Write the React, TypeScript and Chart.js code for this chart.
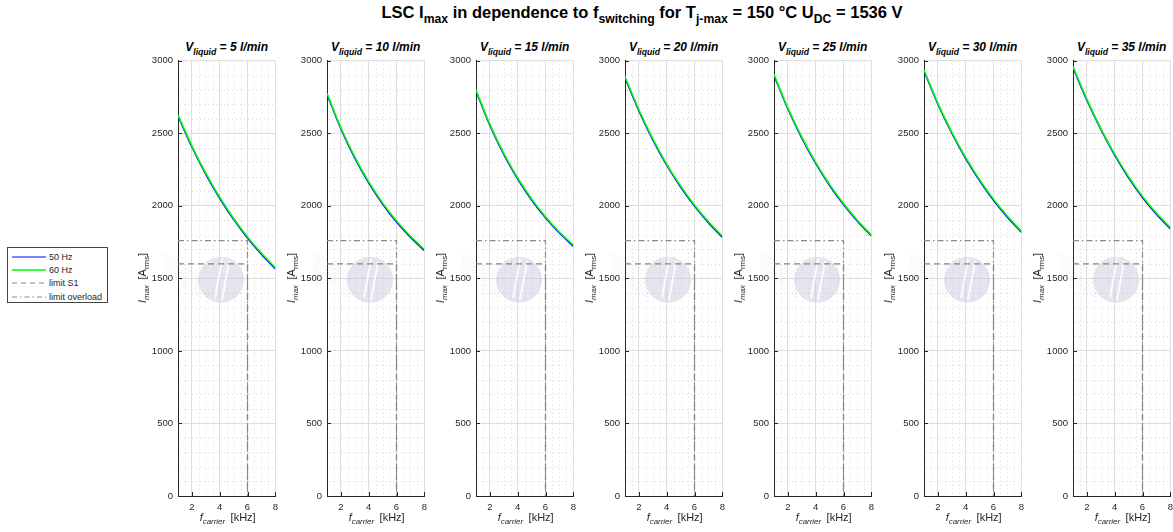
import React, { useEffect, useRef } from "react";
import { Chart, registerables } from "chart.js";

Chart.register(...registerables);

const FONT = "'Liberation Sans', Arial, Helvetica, sans-serif";

// carrier frequency grid [kHz]
const fCarrier = [1, 2, 3, 4, 5, 6, 7, 8];
// coolant flow per panel [l/min]
const flowRates = [5, 10, 15, 20, 25, 30, 35];

// I_max [A_rms] at 50 Hz output frequency, one array per flow rate
const i50Flow5 = [2619, 2405, 2217, 2052, 1906, 1778, 1666, 1566];
const i50Flow10 = [2768, 2530, 2329, 2158, 2012, 1888, 1784, 1692];
const i50Flow15 = [2790, 2554, 2354, 2184, 2040, 1917, 1812, 1722];
const i50Flow20 = [2883, 2654, 2454, 2280, 2129, 1998, 1884, 1784];
const i50Flow25 = [2898, 2667, 2467, 2292, 2140, 2008, 1893, 1793];
const i50Flow30 = [2928, 2700, 2500, 2325, 2172, 2038, 1921, 1818];
const i50Flow35 = [2952, 2727, 2526, 2349, 2193, 2057, 1942, 1842];

// I_max [A_rms] at 60 Hz output frequency
const i60Flow5 = [2627, 2413, 2225, 2060, 1914, 1786, 1674, 1574];
const i60Flow10 = [2776, 2538, 2337, 2166, 2020, 1896, 1792, 1700];
const i60Flow15 = [2798, 2562, 2362, 2192, 2048, 1925, 1820, 1730];
const i60Flow20 = [2891, 2662, 2462, 2288, 2137, 2006, 1892, 1792];
const i60Flow25 = [2906, 2675, 2475, 2300, 2148, 2016, 1901, 1801];
const i60Flow30 = [2936, 2708, 2508, 2333, 2180, 2046, 1929, 1826];
const i60Flow35 = [2960, 2735, 2534, 2357, 2201, 2065, 1950, 1850];

const i50ByFlow = [i50Flow5, i50Flow10, i50Flow15, i50Flow20, i50Flow25, i50Flow30, i50Flow35];
const i60ByFlow = [i60Flow5, i60Flow10, i60Flow15, i60Flow20, i60Flow25, i60Flow30, i60Flow35];

// operating limits: horizontal current limit up to 6 kHz, then down to zero
const limitF = [1, 6, 6];
const limitS1 = [1600, 1600, 0];
const limitOverload = [1760, 1760, 0];

const xTicks = [2, 4, 6, 8];
const yTicks = [0, 500, 1000, 1500, 2000, 2500, 3000];
const xMinorTicks = [1.5, 2.5, 3, 3.5, 4.5, 5, 5.5, 6.5, 7, 7.5];
const yMinorTicks = [100, 200, 300, 400, 600, 700, 800, 900, 1100, 1200, 1300, 1400, 1600, 1700, 1800, 1900, 2100, 2200, 2300, 2400, 2600, 2700, 2800, 2900];

// page layout of the axes boxes
const AXES_LEFT0 = 177.7;
const AXES_STEP = 149.17;
const AXES_W = 97.3;
const AXES_TOP = 60.7;
const AXES_BOTTOM = 496;
const CANVAS_TOP = 40;
const CANVAS_H = 492;
const CANVAS_W = 152;
const CANVAS_OFFSET = 48;
const Y_AXIS_W = 40;
const X_AXIS_H = CANVAS_TOP + CANVAS_H - AXES_BOTTOM;

const TEXT = "#262626";

const pts = (xs: number[], ys: number[]) => xs.map((x, i) => ({ x, y: ys[i] }));

const panelDecor = {
  id: "panelDecor",
  beforeDatasetsDraw(chart: any) {
    const { ctx, chartArea: a, scales } = chart;
    const x = scales.x;
    const y = scales.y;
    ctx.save();
    ctx.beginPath();
    ctx.rect(a.left + 1, a.top, a.right - a.left - 1, a.bottom - a.top - 1);
    ctx.clip();
    // minor grid
    ctx.strokeStyle = "#d8d8d8";
    ctx.lineWidth = 1;
    ctx.setLineDash([1, 3]);
    xMinorTicks.forEach((v) => {
      const px = Math.round(x.getPixelForValue(v)) + 0.5;
      ctx.beginPath();
      ctx.moveTo(px, a.top);
      ctx.lineTo(px, a.bottom);
      ctx.stroke();
    });
    yMinorTicks.forEach((v) => {
      const py = Math.round(y.getPixelForValue(v)) + 0.5;
      ctx.beginPath();
      ctx.moveTo(a.left + 2, py);
      ctx.lineTo(a.right, py);
      ctx.stroke();
    });
    ctx.setLineDash([]);
    ctx.restore();

    // faint company mark, centred near 4 kHz / 1500 A
    const cx = x.getPixelForValue(4.1);
    const cy = y.getPixelForValue(1490);
    const r = 23;
    ctx.save();
    ctx.strokeStyle = "rgba(190,190,205,0.18)";
    ctx.lineWidth = 1;
    for (let k = 0; k < 7; k++) {
      ctx.beginPath();
      ctx.moveTo(cx - r + 4, cy - 6 + k * 4);
      ctx.lineTo(cx - r - 34, cy - 26 + k * 3);
      ctx.stroke();
    }
    ctx.fillStyle = "rgba(200,198,220,0.45)";
    ctx.beginPath();
    ctx.arc(cx, cy, r, 0, Math.PI * 2);
    ctx.fill();
    ctx.strokeStyle = "rgba(255,255,255,0.85)";
    ctx.lineWidth = 2;
    ctx.beginPath();
    ctx.moveTo(cx + 1, cy - 21);
    ctx.lineTo(cx - 6, cy + 18);
    ctx.moveTo(cx + 8, cy - 19);
    ctx.lineTo(cx + 1, cy + 20);
    ctx.stroke();
    ctx.restore();
  },
  afterDraw(chart: any) {
    const { ctx, chartArea: a, scales } = chart;
    ctx.save();
    ctx.strokeStyle = TEXT;
    ctx.lineWidth = 1;
    scales.y.ticks.forEach((t: any) => {
      const py = Math.round(scales.y.getPixelForValue(t.value)) + 0.5;
      ctx.beginPath();
      ctx.moveTo(a.left, py);
      ctx.lineTo(a.left + 4, py);
      ctx.stroke();
    });
    scales.x.ticks.forEach((t: any) => {
      const px = Math.round(scales.x.getPixelForValue(t.value)) + 0.5;
      ctx.beginPath();
      ctx.moveTo(px, a.bottom);
      ctx.lineTo(px, a.bottom - 4);
      ctx.stroke();
    });
    ctx.restore();
  },
};

const noPad = (s: any) => {
  s.paddingLeft = 0;
  s.paddingRight = 0;
  s.paddingTop = 0;
  s.paddingBottom = 0;
};

function Panel({ index }: { index: number }) {
  const ref = useRef<HTMLCanvasElement | null>(null);
  const axesLeft = Math.round(AXES_LEFT0 + AXES_STEP * index);
  const canvasLeft = axesLeft - CANVAS_OFFSET;

  useEffect(() => {
    if (!ref.current) return;
    const padLeft = CANVAS_OFFSET - Y_AXIS_W;
    const padRight = CANVAS_W - (CANVAS_OFFSET + AXES_W);
    const tickFont = { family: FONT, size: 9.5 };
    const chart = new Chart(ref.current, {
      type: "line",
      data: {
        datasets: [
          {
            label: "60 Hz",
            data: pts(fCarrier, i60ByFlow[index]),
            borderColor: "#00ff00",
            borderWidth: 1.5,
            cubicInterpolationMode: "monotone",
          },
          {
            label: "50 Hz",
            data: pts(fCarrier, i50ByFlow[index]),
            borderColor: "#0000ff",
            borderWidth: 1.5,
            cubicInterpolationMode: "monotone",
          },
          {
            label: "limit S1",
            data: pts(limitF, limitS1),
            borderColor: "#858585",
            borderWidth: 1.2,
            borderDash: [6, 4],
            tension: 0,
          },
          {
            label: "limit overload",
            data: pts(limitF, limitOverload),
            borderColor: "#8a8a8a",
            borderWidth: 1.2,
            borderDash: [6, 3, 1.5, 3],
            tension: 0,
          },
        ],
      },
      options: {
        animation: false,
        responsive: false,
        events: [],
        layout: { padding: { left: padLeft, right: padRight, top: AXES_TOP - CANVAS_TOP, bottom: 0 } },
        elements: { point: { radius: 0 } },
        plugins: { legend: { display: false }, tooltip: { enabled: false }, title: { display: false } },
        scales: {
          x: {
            type: "linear",
            min: 1,
            max: 8,
            afterBuildTicks: (s: any) => {
              s.ticks = xTicks.map((v) => ({ value: v }));
            },
            afterFit: (s: any) => {
              s.height = X_AXIS_H;
              noPad(s);
            },
            grid: { color: "#dedede", lineWidth: 1, drawTicks: false },
            border: { display: true, color: TEXT, width: 1 },
            ticks: { font: tickFont, color: TEXT, padding: 6, maxRotation: 0, autoSkip: false, callback: (v: any) => String(v) },
          },
          y: {
            type: "linear",
            min: 0,
            max: 3000,
            afterBuildTicks: (s: any) => {
              s.ticks = yTicks.map((v) => ({ value: v }));
            },
            afterFit: (s: any) => {
              s.width = Y_AXIS_W;
              noPad(s);
            },
            grid: { color: "#dedede", lineWidth: 1, drawTicks: false },
            border: { display: true, color: TEXT, width: 1 },
            ticks: { font: tickFont, color: TEXT, padding: 5, autoSkip: false, callback: (v: any) => String(v) },
          },
        },
      },
      plugins: [panelDecor],
    } as any);
    return () => chart.destroy();
  }, [index]);

  const center = axesLeft + AXES_W / 2;
  const sub: React.CSSProperties = { fontSize: "0.72em", position: "relative", top: "0.42em" };

  return (
    <>
      <div
        style={{
          position: "absolute",
          left: center,
          top: 40,
          transform: "translateX(-50%)",
          whiteSpace: "nowrap",
          font: `italic bold 12px ${FONT}`,
          color: "#000",
          lineHeight: "14px",
        }}
      >
        V<span style={sub}>liquid</span> = {flowRates[index]} l/min
      </div>
      <canvas
        ref={ref}
        width={CANVAS_W}
        height={CANVAS_H}
        style={{ position: "absolute", left: canvasLeft, top: CANVAS_TOP, width: CANVAS_W, height: CANVAS_H }}
      />
      <div
        style={{
          position: "absolute",
          left: axesLeft - 35,
          top: (AXES_TOP + AXES_BOTTOM) / 2,
          transform: "translate(-50%,-50%) rotate(-90deg)",
          whiteSpace: "nowrap",
          font: `11px ${FONT}`,
          color: TEXT,
          lineHeight: "13px",
        }}
      >
        <i>I</i>
        <i style={sub}>max</i>
        {"\u2002"}[A<span style={sub}>rms</span>]
      </div>
      <div
        style={{
          position: "absolute",
          left: center + 1,
          top: 511,
          transform: "translateX(-50%)",
          whiteSpace: "nowrap",
          font: `11px ${FONT}`,
          color: TEXT,
          lineHeight: "13px",
        }}
      >
        <i>f</i>
        <i style={sub}>carrier</i>
        {"\u2002"}[kHz]
      </div>
    </>
  );
}

function Legend() {
  const rows = [
    { label: "50 Hz", color: "#0000ff", dash: "", w: 1.2 },
    { label: "60 Hz", color: "#00ff00", dash: "", w: 1.5 },
    { label: "limit S1", color: "#858585", dash: "5 4", w: 1 },
    { label: "limit overload", color: "#8a8a8a", dash: "5 3 1.5 3", w: 1 },
  ];
  return (
    <div
      style={{
        position: "absolute",
        left: 7,
        top: 247,
        width: 99,
        height: 54,
        border: "1px solid #444",
        background: "#fff",
        font: `9px ${FONT}`,
        color: TEXT,
      }}
    >
      {rows.map((r, i) => (
        <div key={r.label} style={{ position: "absolute", left: 4, top: 3 + i * 13.2, height: 12, display: "flex", alignItems: "center" }}>
          <svg width={34} height={12} style={{ display: "block" }}>
            <line x1={0} y1={6} x2={34} y2={6} stroke={r.color} strokeWidth={r.w} strokeDasharray={r.dash || undefined} />
          </svg>
          <span style={{ marginLeft: 3, whiteSpace: "nowrap" }}>{r.label}</span>
        </div>
      ))}
    </div>
  );
}

export default function App() {
  const sub: React.CSSProperties = { fontSize: "0.74em", position: "relative", top: "0.45em" };
  return (
    <div style={{ position: "absolute", left: 0, top: 0, width: 1173, height: 532, background: "#fff", overflow: "hidden" }}>
      <div
        style={{
          position: "absolute",
          left: 642,
          top: 3,
          transform: "translateX(-50%)",
          whiteSpace: "nowrap",
          font: `bold 16.5px ${FONT}`,
          color: "#000",
          lineHeight: "18px",
        }}
      >
        LSC I<span style={sub}>max</span> in dependence to f<span style={sub}>switching</span> for T
        <span style={sub}>j-max</span> = 150 °C U<span style={sub}>DC</span> = 1536 V
      </div>
      <Legend />
      {flowRates.map((_, i) => (
        <Panel key={i} index={i} />
      ))}
    </div>
  );
}
